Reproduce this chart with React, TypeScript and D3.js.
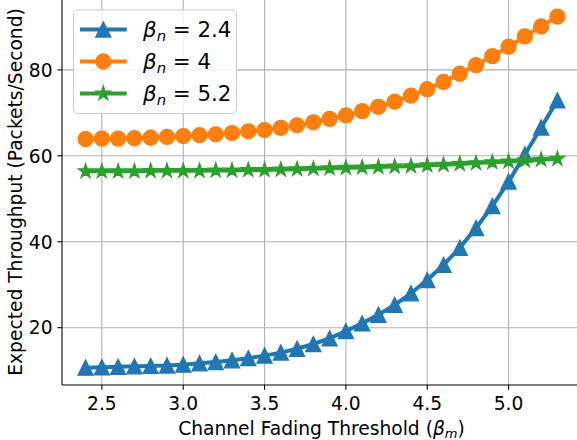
import React from "react";
import * as d3 from "d3";

// ---- data ----
const thresholds = [2.4, 2.5, 2.6, 2.7, 2.8, 2.9, 3.0, 3.1, 3.2, 3.3, 3.4, 3.5, 3.6, 3.7, 3.8, 3.9, 4.0, 4.1, 4.2, 4.3, 4.4, 4.5, 4.6, 4.7, 4.8, 4.9, 5.0, 5.1, 5.2, 5.3];
const throughputBeta24 = [10.7, 10.8, 10.9, 11.0, 11.1, 11.2, 11.4, 11.7, 12.0, 12.4, 12.9, 13.5, 14.2, 15.1, 16.2, 17.5, 19.2, 21.0, 23.0, 25.3, 28.0, 31.1, 34.6, 38.6, 43.2, 48.3, 54.0, 60.3, 66.6, 72.9];
const throughputBeta4 = [63.9, 64.0, 64.0, 64.1, 64.2, 64.4, 64.6, 64.8, 65.0, 65.3, 65.7, 66.0, 66.5, 67.1, 67.8, 68.6, 69.4, 70.4, 71.4, 72.6, 74.0, 75.5, 77.2, 79.1, 81.1, 83.2, 85.4, 87.8, 90.1, 92.4];
const throughputBeta52 = [56.4, 56.4, 56.4, 56.4, 56.5, 56.5, 56.5, 56.5, 56.6, 56.6, 56.7, 56.7, 56.8, 56.9, 57.0, 57.1, 57.2, 57.3, 57.4, 57.5, 57.6, 57.8, 57.9, 58.1, 58.3, 58.5, 58.7, 58.9, 59.1, 59.3];
const seriesLabels = ["2.4", "4", "5.2"];
const seriesColors = ["#1f77b4", "#ff7f0e", "#2ca02c"];
const seriesMarkers = ["triangle", "circle", "star"];
const xTicks = [2.5, 3.0, 3.5, 4.0, 4.5, 5.0];
const yTicks = [20, 40, 60, 80];

const W = 577;
const H = 440;
const FONT = "DejaVu Sans, sans-serif";
const FS = 18.67;
const LFS = 21.33;
const MS = 15;

function markerPath(kind: string, size: number): string {
  const r = size / 2;
  if (kind === "triangle") return `M0,${-r}L${-r},${r}L${r},${r}Z`;
  if (kind === "circle") return `M${r},0A${r},${r} 0 1,1 ${-r},0A${r},${r} 0 1,1 ${r},0Z`;
  const inner = r * 0.381966;
  const pts: string[] = [];
  for (let i = 0; i < 10; i++) {
    const rad = i % 2 === 0 ? r : inner;
    const a = -Math.PI / 2 + (i * Math.PI) / 5;
    pts.push(`${(rad * Math.cos(a)).toFixed(2)},${(rad * Math.sin(a)).toFixed(2)}`);
  }
  return "M" + pts.join("L") + "Z";
}

export default function App() {
  const x = d3.scaleLinear().domain([2.255, 5.445]).range([62, 581]);
  const y = d3.scaleLinear().domain([6.66, 96.5]).range([385, -1]);
  const series = [throughputBeta24, throughputBeta4, throughputBeta52];
  const line = d3
    .line<number>()
    .x((_, i) => x(thresholds[i]))
    .y((d) => y(d));

  const legendRows = [29.5, 61.5, 93.5];

  return (
    <svg
      width={W}
      height={H}
      style={{ position: "absolute", left: 0, top: 0, background: "#fff" }}
      fontFamily={FONT}
    >
      <rect x={0} y={0} width={W} height={H} fill="#fff" />
      <defs>
        <clipPath id="plotclip">
          <rect x={62} y={-1} width={519} height={386} />
        </clipPath>
      </defs>
      {/* grid */}
      {xTicks.map((t) => (
        <line key={"gx" + t} x1={x(t)} x2={x(t)} y1={-1} y2={385} stroke="#b0b0b0" strokeWidth={1.07} />
      ))}
      {yTicks.map((t) => (
        <line key={"gy" + t} x1={62} x2={581} y1={y(t)} y2={y(t)} stroke="#b0b0b0" strokeWidth={1.07} />
      ))}
      {/* series */}
      <g clipPath="url(#plotclip)">
        {series.map((s, si) => (
          <g key={"s" + si}>
            <path d={line(s) || ""} fill="none" stroke={seriesColors[si]} strokeWidth={4} strokeLinejoin="round" />
            {s.map((v, i) => (
              <path
                key={i}
                d={markerPath(seriesMarkers[si], MS)}
                transform={`translate(${x(thresholds[i])},${y(v)})`}
                fill={seriesColors[si]}
                stroke={seriesColors[si]}
                strokeWidth={1.33}
              />
            ))}
          </g>
        ))}
      </g>
      {/* spines */}
      <line x1={62} x2={62} y1={-1} y2={385} stroke="#000" strokeWidth={1.07} />
      <line x1={62} x2={581} y1={385} y2={385} stroke="#000" strokeWidth={1.07} />
      {/* x ticks */}
      {xTicks.map((t) => (
        <g key={"xt" + t}>
          <line x1={x(t)} x2={x(t)} y1={385} y2={389.7} stroke="#000" strokeWidth={1.07} />
          <text x={x(t)} y={410.3} fontSize={FS} textAnchor="middle" fill="#000">
            {t.toFixed(1)}
          </text>
        </g>
      ))}
      {/* y ticks */}
      {yTicks.map((t) => (
        <g key={"yt" + t}>
          <line x1={57.3} x2={62} y1={y(t)} y2={y(t)} stroke="#000" strokeWidth={1.07} />
          <text x={52.6} y={y(t) + 6.8} fontSize={FS} textAnchor="end" fill="#000">
            {t}
          </text>
        </g>
      ))}
      {/* axis labels */}
      <text x={321.5} y={434.5} fontSize={FS} textAnchor="middle" fill="#000">
        Channel Fading Threshold (<tspan fontStyle="italic">β</tspan>
        <tspan fontStyle="italic" fontSize={FS * 0.7} dy={3.5}>m</tspan>
        <tspan dy={-3.5}>)</tspan>
      </text>
      <text
        transform={`translate(21.7,192) rotate(-90)`}
        fontSize={FS}
        textAnchor="middle"
        fill="#000"
      >
        Expected Throughput (Packets/Second)
      </text>
      {/* legend */}
      <rect x={73.5} y={10} width={163} height={103.5} rx={4.3} ry={4.3} fill="#fff" fillOpacity={0.8} stroke="#cccccc" strokeWidth={1.07} />
      {seriesLabels.map((lab, i) => (
        <g key={"lg" + i}>
          <line x1={82} x2={124.7} y1={legendRows[i]} y2={legendRows[i]} stroke={seriesColors[i]} strokeWidth={4} strokeLinecap="square" />
          <path
            d={markerPath(seriesMarkers[i], MS)}
            transform={`translate(103.3,${legendRows[i]})`}
            fill={seriesColors[i]}
            stroke={seriesColors[i]}
            strokeWidth={1.33}
          />
          <text x={143} y={legendRows[i] + 7.5} fontSize={LFS} fill="#000">
            <tspan fontStyle="italic">β</tspan>
            <tspan fontStyle="italic" fontSize={LFS * 0.7} dy={4}>n</tspan>
            <tspan dy={-4}>{" = " + lab}</tspan>
          </text>
        </g>
      ))}
    </svg>
  );
}
